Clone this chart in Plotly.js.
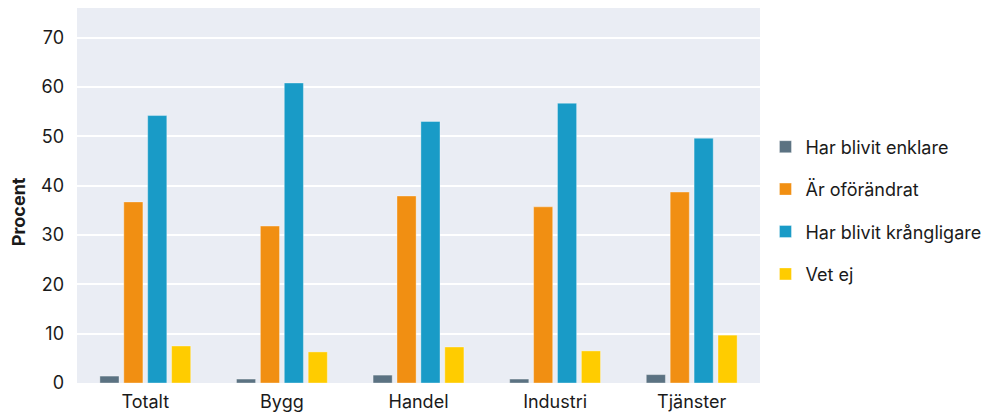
<!DOCTYPE html>
<html><head><meta charset="utf-8">
<script src="https://cdn.plot.ly/plotly-3.0.1.min.js"></script>
<style>html,body{margin:0;padding:0;background:#fff}#c{width:994px;height:414px}</style>
</head><body><div id="c"></div>
<script>
const categories = ["Totalt", "Bygg", "Handel", "Industri", "Tjänster"];
const seriesNames = ["Har blivit enklare", "Är oförändrat", "Har blivit krångligare", "Vet ej"];
const enklare = [1.4, 0.8, 1.6, 0.8, 1.7];
const oforandrat = [36.7, 31.8, 37.9, 35.7, 38.7];
const kranligare = [54.2, 60.8, 53.0, 56.7, 49.6];
const vetEj = [7.5, 6.3, 7.3, 6.5, 9.7];
const colors = ["#5b7282", "#f18f12", "#199bc7", "#ffcc00"];
const values = [enklare, oforandrat, kranligare, vetEj];

const traces = values.map((v, i) => ({
  type: "bar", x: categories, y: v, name: seriesNames[i], legendgroup: "g" + i,
  marker: {color: colors[i], line: {color: "rgba(255,255,255,0.35)", width: 1}},
  hoverinfo: "none"
}));

const layout = {
  width: 994, height: 414,
  margin: {l: 77, r: 234, t: 8, b: 31},
  paper_bgcolor: "#ffffff", plot_bgcolor: "#eaedf4",
  font: {family: "Inter, 'Open Sans', sans-serif", size: 18, color: "#1a1a1a"},
  barmode: "group", bargap: 0.3, bargroupgap: 0.2,
  xaxis: {showgrid: false, zeroline: false, ticks: "", tickfont: {size: 18}, ticklabelstandoff: 6},
  yaxis: {range: [0, 76], dtick: 10, showgrid: true, gridcolor: "#ffffff", gridwidth: 2,
    zeroline: false, ticks: "", tickfont: {size: 18}, ticklabelstandoff: 12},
  annotations: [{text: "<b>Procent</b>", textangle: -90, xref: "paper", yref: "paper",
    x: -0.086, y: 0.456, xanchor: "center", yanchor: "middle", showarrow: false, font: {size: 18}}],
  legend: {x: 1.008, y: 0.46, xanchor: "left", yanchor: "middle", traceorder: "grouped",
    tracegroupgap: 16, font: {size: 18}, bgcolor: "rgba(0,0,0,0)", itemwidth: 30}
};
Plotly.newPlot("c", traces, layout, {displayModeBar: false, staticPlot: true});
</script></body></html>
